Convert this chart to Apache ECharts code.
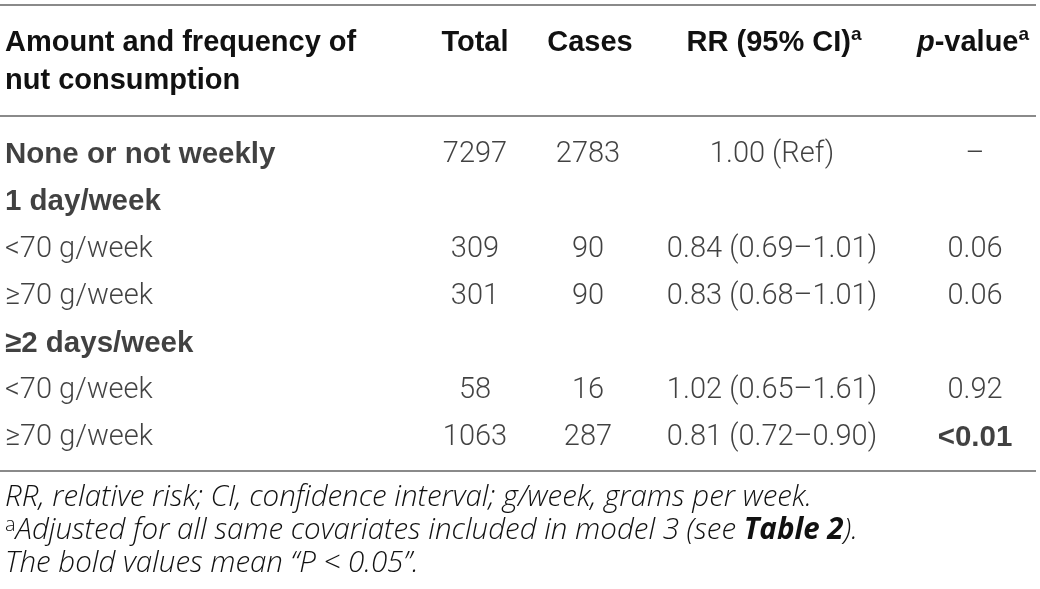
<!DOCTYPE html>
<html>
<head>
<meta charset="utf-8">
<script src="https://cdn.jsdelivr.net/npm/echarts@6/dist/echarts.min.js"></script>
<style>
html, body { margin: 0; padding: 0; background: #fff; }
#main { width: 1040px; height: 589px; }
</style>
</head>
<body>
<div id="main"></div>
<script>
// table content
var rowLabels = ['None or not weekly', '1 day/week', '<70 g/week', '≥70 g/week', '≥2 days/week', '<70 g/week', '≥70 g/week'];
var groupRow = [true, true, false, false, true, false, false];
var totals = ['7297', '', '309', '301', '', '58', '1063'];
var cases = ['2783', '', '90', '90', '', '16', '287'];
var rrCI = ['1.00 (Ref)', '', '0.84 (0.69–1.01)', '0.83 (0.68–1.01)', '', '1.02 (0.65–1.61)', '0.81 (0.72–0.90)'];
var pValues = ['–', '', '0.06', '0.06', '', '0.92', '<0.01'];
var pSignificant = [false, false, false, false, false, false, true];

var headerFirst = ['Amount and frequency of', 'nut consumption'];
var headerCols = ['Total', 'Cases', '{t|RR (95% CI)}{sup|a}', '{ip|p}{t|-value}{sup|a}'];
var footnotes = [
	'{i|RR, relative risk; CI, confidence interval; g/week, grams per week.}',
	'{sup|a}{i|Adjusted for all same covariates included in model 3 (see }{ib|Table 2}{i|).}',
	'{i|The bold values mean “P < 0.05”.}'
];

// layout
var colX = [5, 475, 588, 772, 975];
var headX = [475, 590, 774, 973];
var INK = '#111';
var RULE = '#8a8a8a';
var BODY_FONT = 'Roboto';
var HEAD_FONT = 'Liberation Sans';
var NOTE_FONT = 'Open Sans';
var HEAD_SIZE = 29;
var BOLD_SIZE = 29.5;
var BODY_SIZE = 29;
var NOTE_SIZE = 29.5;

var chart = echarts.init(document.getElementById('main'));

var columns = [rowLabels, totals, cases, rrCI, pValues];
var series = columns.map(function (col, c) {
	return {
		type: 'scatter',
		symbolSize: 0,
		silent: true,
		data: col.map(function (txt, i) {
			var item = { value: [colX[c], i], txt: txt };
			if ((c === 0 && groupRow[i]) || (c === 4 && pSignificant[i])) {
				item.label = { fontWeight: 'bold', fontFamily: HEAD_FONT, fontSize: BOLD_SIZE };
			}
			return item;
		}),
		label: {
			show: true,
			position: 'inside',
			align: c === 0 ? 'left' : 'center',
			verticalAlign: 'middle',
			color: INK,
			fontFamily: BODY_FONT,
			fontWeight: 300,
			fontSize: BODY_SIZE,
			formatter: function (p) { return p.data.txt; }
		}
	};
});

var graphics = [
	{ type: 'line', shape: { x1: 0, y1: 5, x2: 1036, y2: 5 }, style: { stroke: RULE, lineWidth: 2 } },
	{ type: 'line', shape: { x1: 0, y1: 116, x2: 1036, y2: 116 }, style: { stroke: RULE, lineWidth: 2 } },
	{ type: 'line', shape: { x1: 0, y1: 471, x2: 1036, y2: 471 }, style: { stroke: RULE, lineWidth: 2 } }
];

headerFirst.forEach(function (t, i) {
	graphics.push({
		type: 'text', x: 5, y: 43 + i * 38,
		style: { text: t, fill: INK, font: 'bold ' + HEAD_SIZE + 'px "' + HEAD_FONT + '"', verticalAlign: 'middle', align: 'left' }
	});
});

headerCols.forEach(function (t, i) {
	graphics.push({
		type: 'text', x: headX[i], y: 43,
		style: {
			text: t, fill: INK, font: 'bold ' + HEAD_SIZE + 'px "' + HEAD_FONT + '"', align: 'center', verticalAlign: 'middle',
			rich: {
				t: { fontFamily: HEAD_FONT, fontWeight: 'bold', fontSize: HEAD_SIZE, fill: INK },
				ip: { fontFamily: HEAD_FONT, fontWeight: 'bold', fontStyle: 'italic', fontSize: HEAD_SIZE, fill: INK },
				sup: { fontFamily: HEAD_FONT, fontWeight: 'bold', fontSize: 19, fill: INK, padding: [0, 0, 16, 0] }
			}
		}
	});
});

footnotes.forEach(function (t, i) {
	graphics.push({
		type: 'text', x: 5, y: 498 + i * 33,
		style: {
			text: t, fill: INK, verticalAlign: 'middle', align: 'left',
			rich: {
				i: { fontFamily: NOTE_FONT, fontWeight: 300, fontStyle: 'italic', fontSize: NOTE_SIZE, fill: INK },
				ib: { fontFamily: NOTE_FONT, fontWeight: 'bold', fontStyle: 'italic', fontSize: NOTE_SIZE, fill: INK },
				sup: { fontFamily: NOTE_FONT, fontWeight: 300, fontSize: 20, fill: INK, padding: [0, 0, 12, 0] }
			}
		}
	});
});

chart.setOption({
	animation: false,
	backgroundColor: '#fff',
	grid: { left: 0, right: 0, top: 131.5, height: 330 },
	xAxis: { type: 'value', min: 0, max: 1040, show: false },
	yAxis: { type: 'category', inverse: true, show: false, data: rowLabels.map(function (d, i) { return String(i); }) },
	series: series,
	graphic: graphics
});
</script>
</body>
</html>
